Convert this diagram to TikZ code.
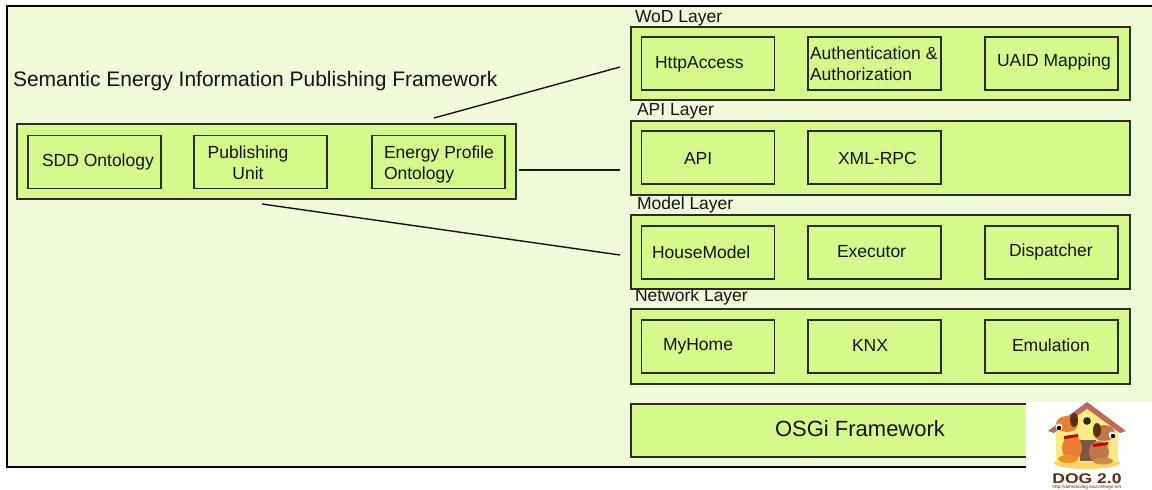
\documentclass[tikz,border=0pt]{standalone}
\usepackage{fontspec}
\setmainfont{Liberation Sans}
\begin{document}
\begin{tikzpicture}[x=1pt,y=-1pt,
  every node/.style={inner sep=0pt,outer sep=0pt},
  framefill/.style={fill=paleg},
  blk/.style={draw=edgec,fill=limeg,line width=1.6pt},
  inbox/.style={draw=edgec,fill=limeg,line width=1.4pt,minimum width=133pt,minimum height=53pt},
  lbl/.style={anchor=west,text=txtc,font=\fontsize{17.5}{21}\selectfont},
  ttl/.style={anchor=west,text=txtc,font=\fontsize{21}{24}\selectfont},
  conn/.style={draw=txtc,line width=1.4pt}]
\definecolor{paleg}{RGB}{238,250,216}
\definecolor{limeg}{RGB}{214,249,140}
\definecolor{edgec}{RGB}{45,45,40}
\definecolor{txtc}{RGB}{20,20,20}
\definecolor{roofc}{RGB}{190,105,90}
\definecolor{wallc}{RGB}{250,235,130}
\definecolor{dogo}{RGB}{232,128,48}
\definecolor{dogb}{RGB}{190,120,80}
\definecolor{dogt}{RGB}{95,45,20}
\useasboundingbox (0,0) rectangle (1152,490);
\begin{scope}
\clip (0,0) rectangle (1152,490);
% outer frame of the whole platform
\draw[framefill,draw=black,line width=2pt] (7,6) rectangle (1170,467);

% publishing framework
\node[ttl] (title) at (13,81) {Semantic Energy Information Publishing Framework};
\node[blk,minimum width=499pt,minimum height=75pt] (pub) at (266.5,161.5) {};
\node[inbox] (sdd) at (94.5,162) {};
\node[inbox] (unit) at (260.5,162) {};
\node[inbox] (epo) at (438.5,162) {};
\node[lbl] (sddt) at (42,162) {SDD Ontology};
\node[lbl,align=center,anchor=center] (unitt) at (248,163) {Publishing\\Unit};
\node[lbl,align=left] (epot) at (384,164) {Energy Profile\\Ontology};

% WoD layer
\node[lbl] (wodl) at (635,18) {WoD Layer};
\node[blk,minimum width=499pt,minimum height=73pt] (wod) at (880.5,63.5) {};
\node[inbox] (http) at (708,63.5) {};
\node[inbox] (auth) at (874.5,63.5) {};
\node[inbox] (uaid) at (1051.5,63.5) {};
\node[lbl] (httpt) at (655,64) {HttpAccess};
\node[lbl,align=left] (autht) at (810,64) {Authentication \&\\Authorization};
\node[lbl] (uaidt) at (997,62) {UAID Mapping};

% API layer
\node[lbl] (apil) at (637,111) {API Layer};
\node[blk,minimum width=499pt,minimum height=74pt] (api) at (880.5,158) {};
\node[inbox] (apib) at (708,157.5) {};
\node[inbox] (xml) at (874.5,157.5) {};
\node[lbl] (apit) at (684,158) {API};
\node[lbl] (xmlt) at (838,158) {XML-RPC};

% Model layer
\node[lbl] (modl) at (637,205) {Model Layer};
\node[blk,minimum width=499pt,minimum height=74pt] (model) at (880.5,252) {};
\node[inbox] (house) at (708,252.5) {};
\node[inbox] (exec) at (874.5,252.5) {};
\node[inbox] (disp) at (1051.5,252.5) {};
\node[lbl] (houset) at (652,252) {HouseModel};
\node[lbl] (exect) at (837,252) {Executor};
\node[lbl] (dispt) at (1009,252) {Dispatcher};

% Network layer
\node[lbl] (netl) at (635,297) {Network Layer};
\node[blk,minimum width=499pt,minimum height=75pt] (net) at (880.5,346.5) {};
\node[inbox] (myh) at (708,346.5) {};
\node[inbox] (knx) at (874.5,346.5) {};
\node[inbox] (emu) at (1051.5,346.5) {};
\node[lbl] (myht) at (663,346) {MyHome};
\node[lbl] (knxt) at (852,345) {KNX};
\node[lbl] (emut) at (1012,345) {Emulation};

% OSGi framework
\node[blk,minimum width=499pt,minimum height=53pt] (osgi) at (880.5,430.5) {};
\node[anchor=center,text=txtc,font=\fontsize{22}{26}\selectfont] (osgit) at (860,429) {OSGi Framework};

% links from the publishing framework to the layers
\coordinate (a1) at (434,118);
\coordinate (b1) at (620,67);
\coordinate (a2) at (519,170);
\coordinate (b2) at (620,170);
\coordinate (a3) at (262,204);
\coordinate (b3) at (620,255);
\draw[conn] (a1) -- (b1);
\draw[conn] (a2) -- (b2);
\draw[conn] (a3) -- (b3);

% DOG 2.0 logo
\fill[white] (1026,402) rectangle (1160,495);
\fill[wallc!80!orange] (1087,463) ellipse [x radius=33pt,y radius=6pt];
\fill[roofc] (1048,431) -- (1087,402) -- (1126,431) -- (1120,433) -- (1087,409) -- (1054,433) -- cycle;
\fill[wallc] (1056,432) -- (1087,409) -- (1118,432) -- (1118,462) -- (1056,462) -- cycle;
\fill[black!85] (1087,421) circle [radius=3.8pt];
\fill[dogt!80] (1080,440) rectangle (1096,461);
% left dog
\fill[dogo] (1072,448) ellipse [x radius=10pt,y radius=13pt];
\fill[dogo!85!yellow] (1068,459) ellipse [x radius=10pt,y radius=4pt];
\fill[dogo] (1067,424) ellipse [x radius=11pt,y radius=8pt];
\fill[dogt] (1074,420) ellipse [x radius=4pt,y radius=7pt];
\fill[white] (1059,427) circle [radius=3.5pt];
\fill[black] (1059,428) circle [radius=2.2pt];
\fill[red!80!black] (1064,436) -- (1078,434) -- (1078,437) -- (1064,439) -- cycle;
% right dog
\fill[dogb] (1099,452) ellipse [x radius=10pt,y radius=11pt];
\fill[dogb!85!yellow] (1103,461) ellipse [x radius=10pt,y radius=3.5pt];
\fill[dogb] (1104,433) ellipse [x radius=11pt,y radius=8pt];
\fill[dogt] (1097,430) ellipse [x radius=4pt,y radius=7pt];
\fill[white] (1112,435) circle [radius=3.5pt];
\fill[black] (1113,436) circle [radius=2.2pt];
\fill[red!80!black] (1093,444) -- (1108,442) -- (1108,445) -- (1093,447) -- cycle;
\node[anchor=center,text=dogt,font=\fontsize{14}{15}\bfseries\selectfont,xscale=1.25] (dogtxt) at (1087,479) {DOG 2.0};
\node[anchor=center,text=dogt,font=\fontsize{4.6}{5}\selectfont] (dogurl) at (1087,487) {http://domoticdog.sourceforge.net};
\end{scope}
\end{tikzpicture}
\end{document}
